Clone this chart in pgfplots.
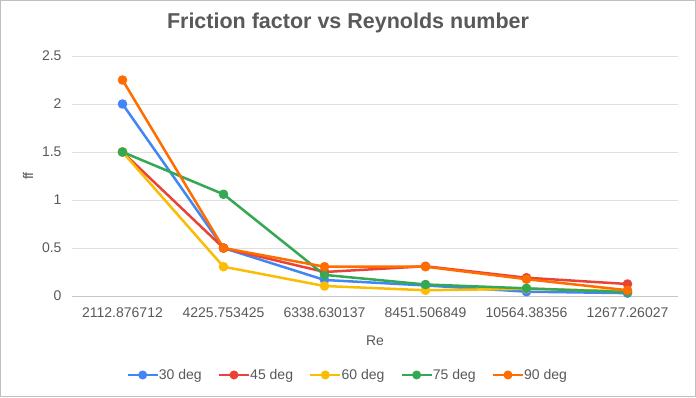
\documentclass[border=0pt]{standalone}
\usepackage{pgfplots}
\pgfplotsset{compat=1.18}
\usepackage{fontspec}
\setmainfont{Liberation Sans}
\definecolor{gblue}{HTML}{4285F4}
\definecolor{gred}{HTML}{EA4335}
\definecolor{gyellow}{HTML}{FBBC04}
\definecolor{ggreen}{HTML}{34A853}
\definecolor{gorange}{HTML}{FF6D01}
\definecolor{txt}{HTML}{595959}
\begin{document}
\begin{tikzpicture}
\fill[white] (0,0) rectangle (696pt,397pt);
\draw[gray!50] (0.5pt,0.5pt) rectangle (695.5pt,396.5pt);
\node[font=\bfseries\fontsize{21.5}{26}\selectfont, text=txt] at (348pt,374pt) {Friction factor vs Reynolds number};
\node[font=\fontsize{14}{16}\selectfont, text=txt] at (375pt,56pt) {Re};
\node[font=\fontsize{14}{16}\selectfont, text=txt, rotate=90] at (28pt,221pt) {ff};
\begin{axis}[
  at={(72pt,101pt)}, anchor=south west,
  scale only axis, width=606pt, height=240pt,
  xmin=-0.5, xmax=5.5, ymin=0, ymax=2.5,
  xtick={0,1,2,3,4,5},
  xticklabels={2112.876712,4225.753425,6338.630137,8451.506849,10564.38356,12677.26027},
  ytick={0,0.5,1,1.5,2,2.5},
  yticklabels={0,0.5,1,1.5,2,2.5},
  major tick length=0pt,
  axis x line*=bottom, axis y line*=left,
  x axis line style={draw=gray!45, line width=0.9pt, -},
  y axis line style={draw=none},
  ymajorgrids, grid style={draw=gray!25, line width=0.8pt},
  tick label style={font=\fontsize{14}{16}\selectfont, text=txt},
  xticklabel style={anchor=center, yshift=-17pt},
  yticklabel style={anchor=east, xshift=-7pt},
  legend columns=5,
  legend style={at={(0.455,-0.329)}, anchor=center, draw=none, font=\fontsize{14}{16}\selectfont, text=txt, /tikz/every even column/.append style={column sep=14pt}, /tikz/every odd column/.append style={column sep=-2pt}},
  legend image code/.code={\draw[#1, mark=none] (0pt,0pt) -- (30pt,0pt); \fill[#1] (15pt,0pt) circle (3.2pt);},
  every axis plot/.append style={line width=2.5pt, mark=*, mark size=3.5pt, line join=round},
  clip=false,
]
\addplot[gblue, mark options={fill=gblue}] coordinates {(0,2.0) (1,0.5) (2,0.167) (3,0.11) (4,0.045) (5,0.03)};
\addlegendentry{30 deg}
\addplot[gred, mark options={fill=gred}] coordinates {(0,1.5) (1,0.5) (2,0.25) (3,0.31) (4,0.19) (5,0.125)};
\addlegendentry{45 deg}
\addplot[gyellow, mark options={fill=gyellow}] coordinates {(0,1.5) (1,0.305) (2,0.104) (3,0.06) (4,0.075) (5,0.05)};
\addlegendentry{60 deg}
\addplot[ggreen, mark options={fill=ggreen}] coordinates {(0,1.5) (1,1.06) (2,0.22) (3,0.12) (4,0.08) (5,0.04)};
\addlegendentry{75 deg}
\addplot[gorange, mark options={fill=gorange}] coordinates {(0,2.25) (1,0.5) (2,0.305) (3,0.305) (4,0.175) (5,0.06)};
\addlegendentry{90 deg}
\end{axis}
\end{tikzpicture}
\end{document}
